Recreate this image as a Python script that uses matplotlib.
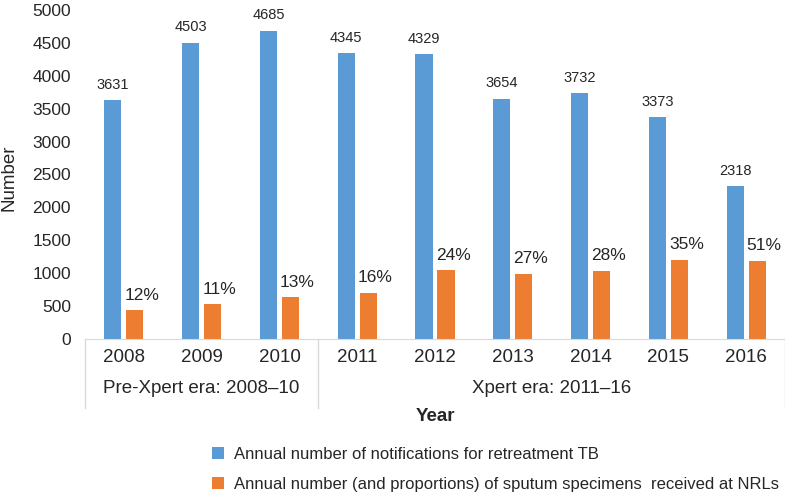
import matplotlib
matplotlib.use('Agg')
import matplotlib.pyplot as plt
import numpy as np

plt.rcParams['font.family'] = ['Liberation Sans', 'DejaVu Sans']

years = ['2008', '2009', '2010', '2011', '2012', '2013', '2014', '2015', '2016']
notifications = [3631, 4503, 4685, 4345, 4329, 3654, 3732, 3373, 2318]
specimens = [440, 525, 635, 705, 1045, 995, 1040, 1205, 1190]
proportions = ['12%', '11%', '13%', '16%', '24%', '27%', '28%', '35%', '51%']
groups = ['Pre-Xpert era: 2008\u201310', 'Xpert era: 2011\u201316']
group_spans = [(0, 2), (3, 8)]
legend_labels = ['Annual number of notifications for retreatment TB',
                 'Annual number (and proportions) of sputum specimens  received at NRLs']

blue = '#5B9BD5'
orange = '#ED7D31'
grey = '#D9D9D9'
txt = '#262626'

fig = plt.figure(figsize=(7.85, 4.96), dpi=100)
ax = fig.add_axes([85 / 785, 157 / 496, 700 / 785, 329 / 496])

x = np.arange(len(years))
w = 0.22
off = 0.142
b1 = ax.bar(x - off, notifications, w, color=blue, label=legend_labels[0])
b2 = ax.bar(x + off, specimens, w, color=orange, label=legend_labels[1])

for xi, v in zip(x, notifications):
    ax.text(xi - off, v + 130, str(v), ha='center', va='bottom', fontsize=10.5, color=txt)
for xi, v, p in zip(x, specimens, proportions):
    ax.text(xi + off + 0.09, v + 110, p, ha='center', va='bottom', fontsize=12.5, color=txt)

ax.set_xlim(-0.5, len(years) - 0.5)
ax.set_ylim(0, 5000)
ax.set_yticks(range(0, 5001, 500))
ax.set_xticks(x)
ax.set_xticklabels(years)
ax.tick_params(axis='x', length=0, pad=7, labelsize=13.5, colors=txt)
ax.tick_params(axis='y', length=0, pad=10, labelsize=12.5, colors=txt)
for s in ['top', 'right', 'left']:
    ax.spines[s].set_visible(False)
ax.spines['bottom'].set_color(grey)

ax.set_ylabel('Number', fontsize=13.5, color=txt)
ax.yaxis.set_label_coords(-0.096, 0.49)

# group separators and labels
trans = ax.get_xaxis_transform()
for sep in [-0.5, 2.5, len(years) - 0.5]:
    ax.plot([sep, sep], [0, -0.21], transform=trans, color=grey, lw=1, clip_on=False)
for g, (a, b) in zip(groups, group_spans):
    ax.text((a + b) / 2, -0.149, g, transform=trans, ha='center', va='center',
            fontsize=13.5, color=txt)

ax.text(0.5, -0.235, 'Year', transform=ax.transAxes, ha='center', va='center',
        fontsize=13.5, fontweight='bold', color=txt)

fig.legend(handles=[b1, b2], loc='upper left', bbox_to_anchor=(197 / 785, 1 - 432 / 496),
           frameon=False, fontsize=12, handlelength=0.7, handleheight=0.7,
           handletextpad=0.6, labelspacing=0.9, labelcolor=txt)

fig.savefig('out.png', dpi=100)
